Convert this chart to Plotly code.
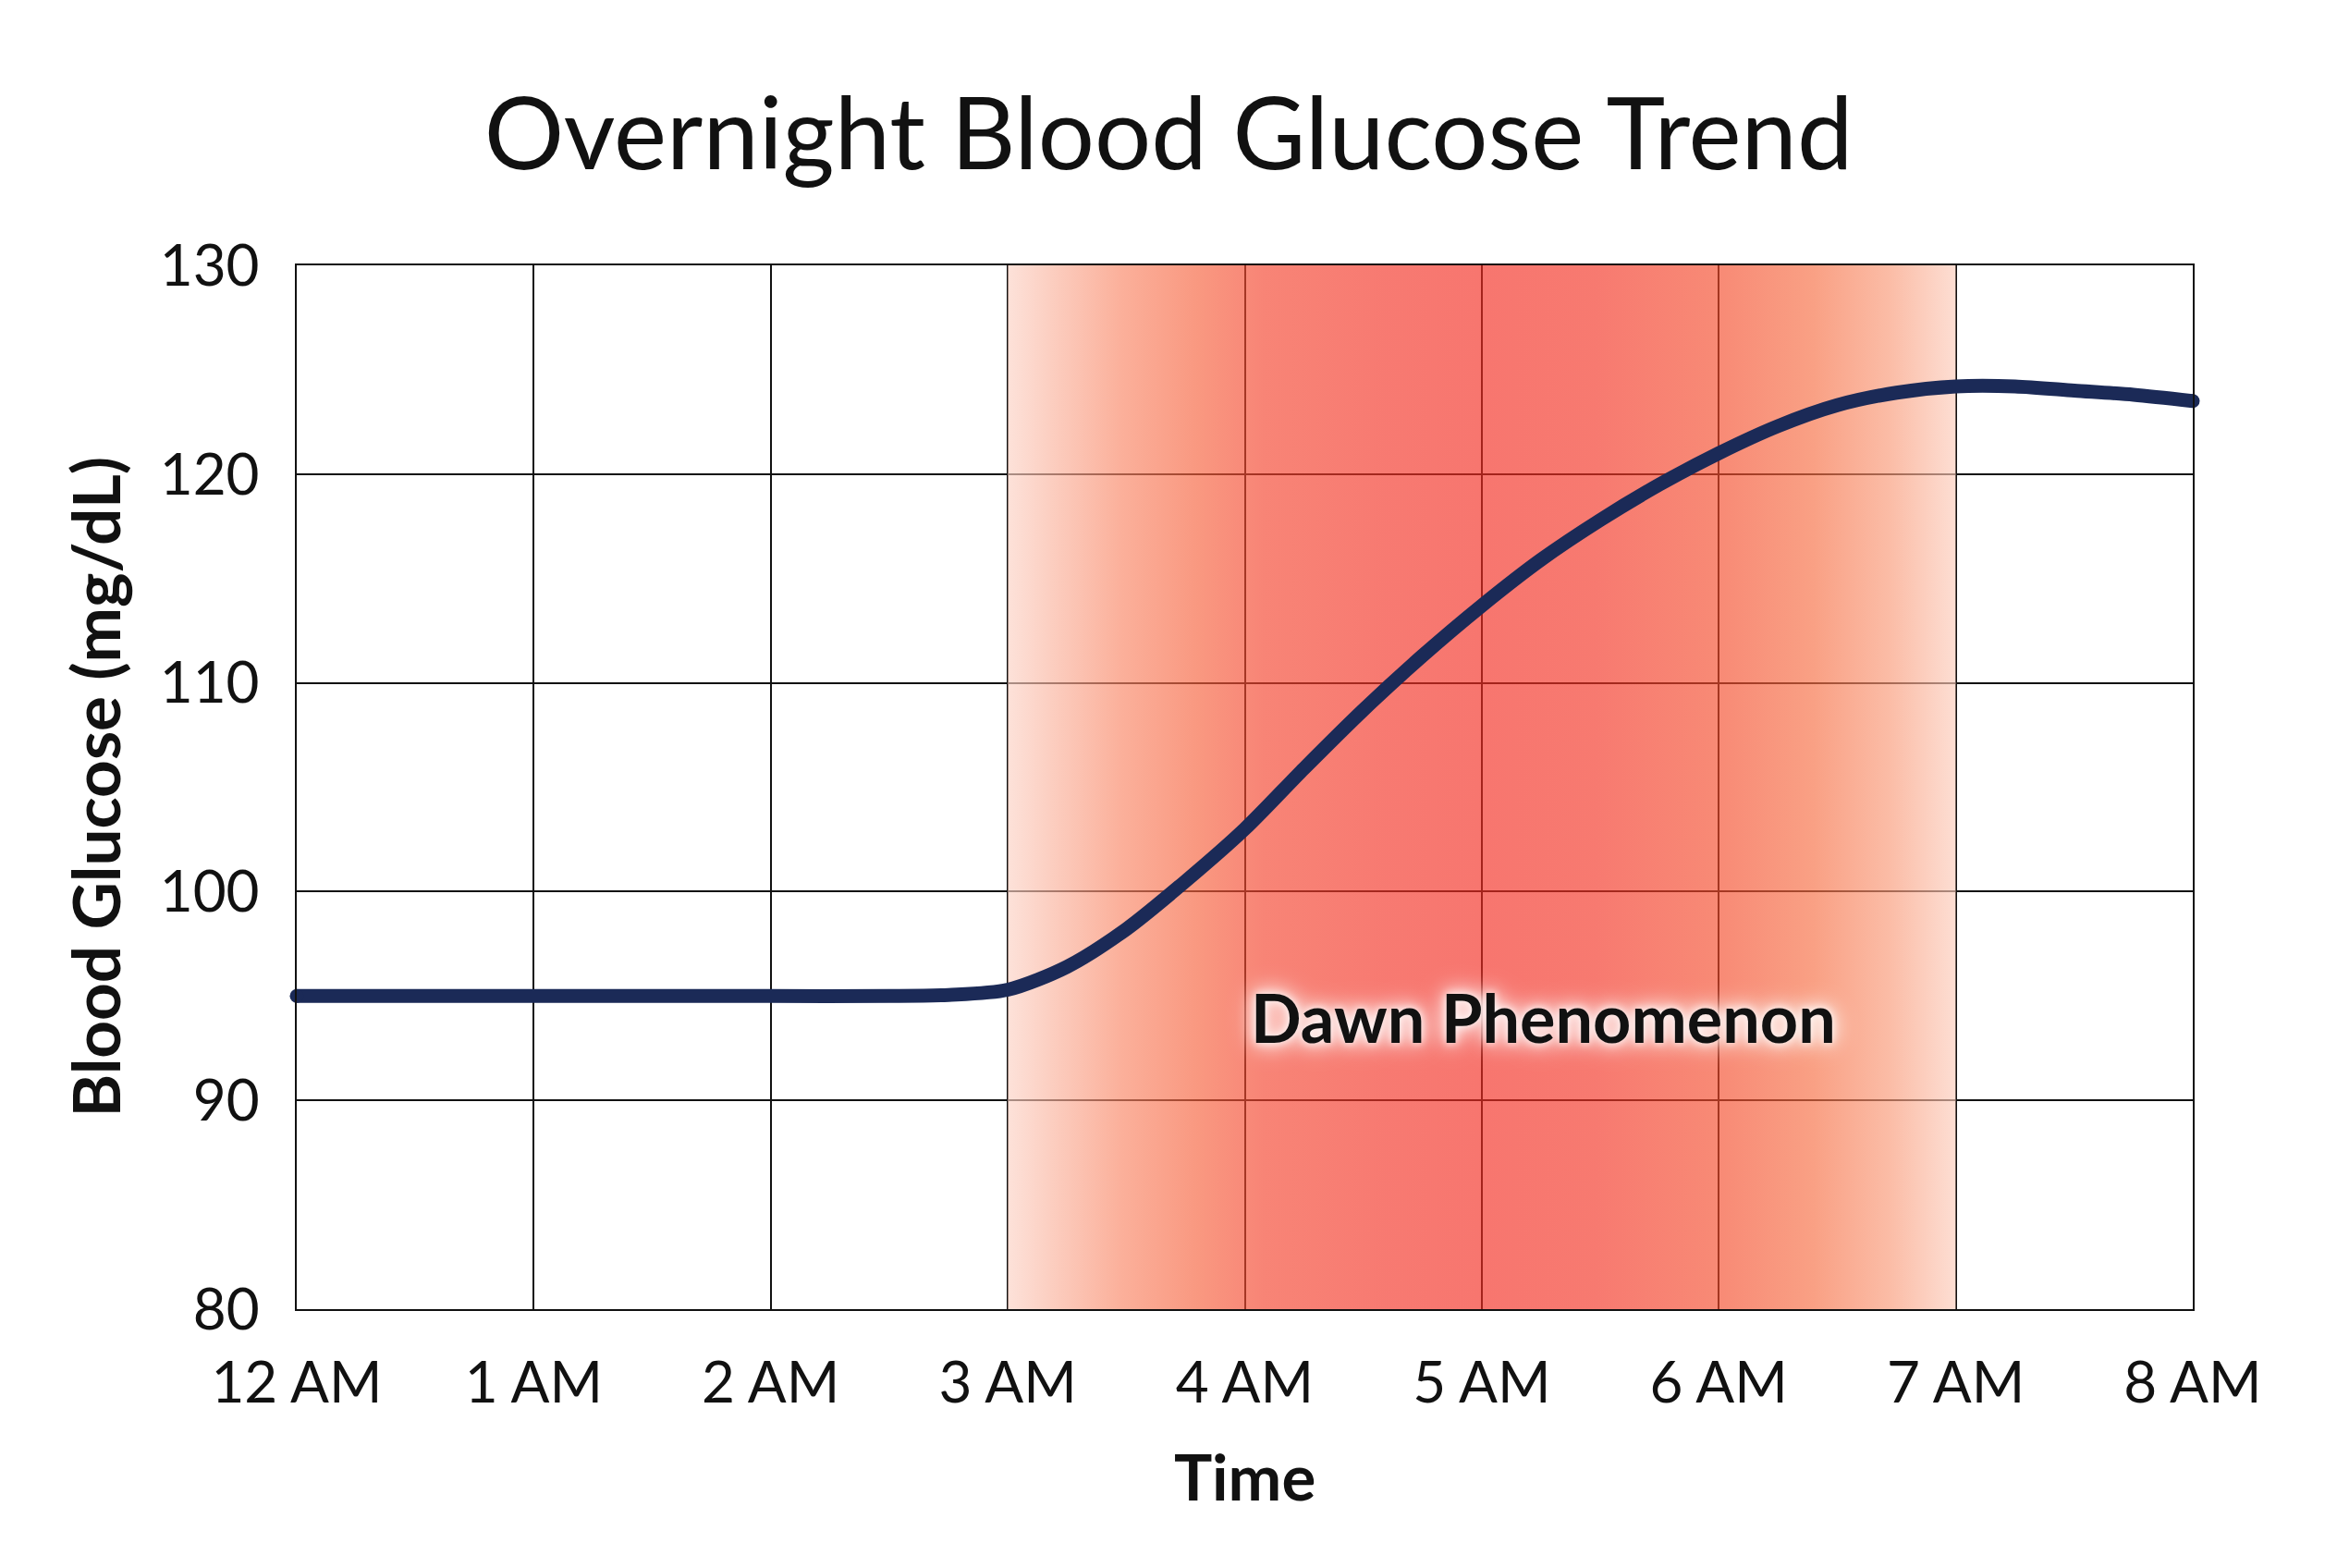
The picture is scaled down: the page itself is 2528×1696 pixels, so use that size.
import plotly.graph_objects as go

# ---- data ----
hours = [0, 0.5, 1, 1.5, 2, 2.5, 2.75, 3, 3.25, 3.5, 3.75, 4, 4.25, 4.5, 4.75,
         5, 5.25, 5.5, 5.75, 6, 6.25, 6.5, 6.75, 7, 7.25, 7.5, 7.75, 8]
glucose = [95, 95, 95, 95, 95, 95, 95.05, 95.3, 96.4, 98.2, 100.5, 103.0, 105.9, 108.7, 111.3,
           113.7, 115.9, 117.8, 119.5, 121.0, 122.3, 123.3, 123.9, 124.2, 124.2, 124.0, 123.8, 123.5]
tick_hours = [0, 1, 2, 3, 4, 5, 6, 7, 8]
tick_labels = ["12 AM", "1 AM", "2 AM", "3 AM", "4 AM", "5 AM", "6 AM", "7 AM", "8 AM"]
y_ticks = [80, 90, 100, 110, 120, 130]
band_start, band_end = 3, 7
band_label = "Dawn Phenomenon"
band_label_pos = (5.26, 94.0)
y_min, y_max = 80, 130

FONT = "Lato"
LINE_COLOR = "#1b2a57"
LINE_W = 15

# gradient of the band (displayed colours), composited with alpha so grid shows through tinted
ALPHA = 0.65
shown = [
    (0.00, (253, 226, 217)),
    (0.05, (252, 204, 190)),
    (0.12, (251, 176, 154)),
    (0.20, (249, 152, 128)),
    (0.27, (248, 132, 118)),
    (0.40, (247, 122, 113)),
    (0.50, (247, 118, 111)),
    (0.62, (247, 122, 112)),
    (0.75, (248, 138, 117)),
    (0.85, (249, 160, 132)),
    (0.93, (251, 188, 166)),
    (1.00, (253, 222, 211)),
]
def unmix(c):
    return tuple(max(0, min(255, round((v - (1 - ALPHA) * 255) / ALPHA))) for v in c)
cscale = [[p, "rgba(%d,%d,%d,%.2f)" % (*unmix(c), ALPHA)] for p, c in shown]

fig = go.Figure()
fig.add_trace(go.Scatter(
    x=[band_start, band_end, band_end, band_start, band_start],
    y=[y_min, y_min, y_max, y_max, y_min],
    mode="lines", line=dict(width=0), fill="toself",
    fillgradient=dict(type="horizontal", colorscale=cscale),
    hoverinfo="skip", showlegend=False,
))
fig.add_trace(go.Scatter(
    x=hours, y=glucose, mode="lines",
    line=dict(color=LINE_COLOR, width=LINE_W, shape="spline", smoothing=0.8),
    showlegend=False,
))
# rounded line ends
fig.add_trace(go.Scatter(
    x=[hours[0], hours[-1]], y=[glucose[0], glucose[-1]], mode="markers",
    marker=dict(color=LINE_COLOR, size=LINE_W, line=dict(width=0)),
    showlegend=False, hoverinfo="skip", cliponaxis=False,
))

fig.add_annotation(
    x=band_label_pos[0], y=band_label_pos[1], text="<b>%s</b>" % band_label,
    showarrow=False, xanchor="center", yanchor="middle",
    font=dict(family=FONT, size=72, color="#111111",
              shadow="0px 0px 10px white, 0px 0px 20px white, 0px 0px 30px white"),
)
fig.add_annotation(
    xref="paper", yref="paper", x=0.5, y=0, yshift=-180, text="<b>Time</b>",
    showarrow=False, xanchor="center", yanchor="middle",
    font=dict(family=FONT, size=69, color="#111111"),
)
fig.add_annotation(
    xref="paper", yref="paper", x=0, y=0.5, xshift=-219, text="<b>Blood Glucose (mg/dL)</b>",
    showarrow=False, xanchor="center", yanchor="middle", textangle=-90,
    font=dict(family=FONT, size=71, color="#111111"),
)

axis_common = dict(
    showgrid=True, gridcolor="#111111", gridwidth=2,
    showline=True, linecolor="#111111", linewidth=2, mirror=True,
    zeroline=False, ticks="", tickfont=dict(family=FONT, size=62, color="#111111"),
)
fig.update_xaxes(range=[0, 8], tickvals=tick_hours, ticktext=tick_labels,
                 ticklabelstandoff=25, **axis_common)
fig.update_yaxes(range=[y_min, y_max], tickvals=y_ticks, ticklabelstandoff=26, **axis_common)

fig.update_layout(
    width=2528, height=1696,
    margin=dict(l=321, r=156, t=287, b=280, autoexpand=False),
    paper_bgcolor="white", plot_bgcolor="white",
    title=dict(text="Overnight Blood Glucose Trend", x=0.5, xanchor="center",
               y=1 - 145 / 1696, yanchor="middle", yref="container",
               font=dict(family=FONT, size=108, color="#111111")),
)

fig.write_html("out.html")
